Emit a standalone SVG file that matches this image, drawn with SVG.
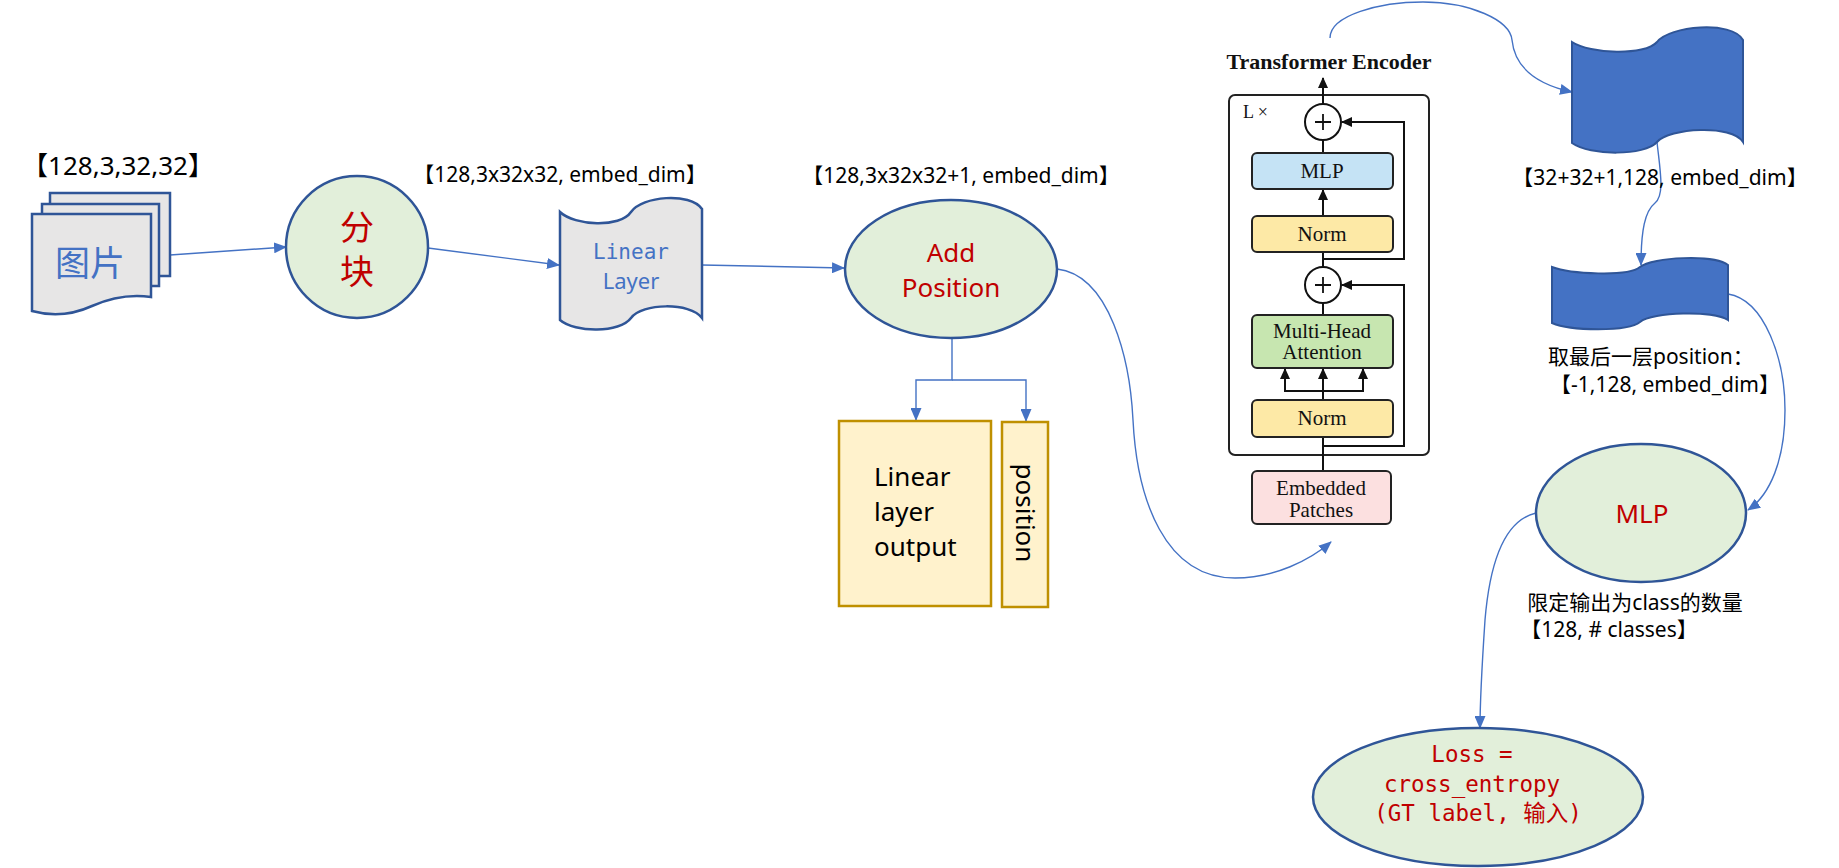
<svg xmlns="http://www.w3.org/2000/svg" width="1839" height="868" viewBox="0 0 1839 868">
<defs>
<marker id="ab" markerWidth="13" markerHeight="11" refX="12" refY="5.5" orient="auto" markerUnits="userSpaceOnUse"><path d="M0,0 L13,5.5 L0,11 Z" fill="#4472c4"/></marker>
<marker id="ak" markerWidth="11" markerHeight="10" refX="10" refY="5" orient="auto" markerUnits="userSpaceOnUse"><path d="M0,0 L11,5 L0,10 Z" fill="#111"/></marker>
<style>
.lbl{font-family:"Noto Sans","Noto Sans CJK SC",sans-serif;fill:#000}
.red{font-family:"Noto Sans","Noto Sans CJK SC",sans-serif;fill:#c00000}
.mono{font-family:"DejaVu Sans Mono","Noto Sans CJK SC",monospace;fill:#c00000;font-size:22.5px}
.gnode{fill:#e2efda;stroke:#2f5597;stroke-width:2.5}
.doc{fill:#e7e6e6;stroke:#2f5597;stroke-width:2.5}
.tape{fill:#4472c4;stroke:#2f5597;stroke-width:2}
.ybox{fill:#fff2cc;stroke:#bf9000;stroke-width:2.5}
.conn{fill:none;stroke:#4472c4;stroke-width:1.4}
.tl{fill:none;stroke:#111;stroke-width:2}
.ser{font-family:"Liberation Serif",serif;font-size:21px;fill:#111;text-anchor:middle}
</style>
</defs>
<rect width="1839" height="868" fill="#fff"/>

<g id="connectors">
<path class="conn" d="M170,255 L286,247" marker-end="url(#ab)"/>
<path class="conn" d="M428,248 L559,265" marker-end="url(#ab)"/>
<path class="conn" d="M702,265 L844,268" marker-end="url(#ab)"/>
<path class="conn" d="M952,338 V380 H916 V420" marker-end="url(#ab)"/>
<path class="conn" d="M952,380 H1026 V421" marker-end="url(#ab)"/>
<path class="conn" d="M1057,269 C1110,275 1130,360 1133,420 C1137,500 1165,578 1235,578 C1275,578 1310,560 1331,542" marker-end="url(#ab)"/>
<path class="conn" d="M1330,38 C1330,15 1380,2 1423,2 C1470,2 1510,20 1512,40 C1515,70 1540,85 1572,92" marker-end="url(#ab)"/>
<path class="conn" d="M1657,142 C1660,170 1665,195 1655,203 C1645,211 1641,230 1641,265" marker-end="url(#ab)"/>
<path class="conn" d="M1728,294 C1765,300 1785,360 1785,410 C1785,460 1770,495 1748,510" marker-end="url(#ab)"/>
<path class="conn" d="M1536,513 C1505,520 1490,560 1485,620 C1481,680 1480,710 1480,728" marker-end="url(#ab)"/>
</g>

<g id="label-input"><text class="lbl" x="118" y="175" font-size="26" text-anchor="middle">【128,3,32,32】</text></g>

<g id="images">
<rect class="doc" x="50" y="193" width="120" height="83"/>
<rect class="doc" x="42" y="204" width="117" height="82"/>
<path class="doc" d="M32,214 H151 V297 C130,294 110,298 92,306 C70,316 50,316 32,311 Z"/>
<text x="90" y="276" font-family="Noto Sans CJK SC,sans-serif" font-size="35" fill="#4472c4" text-anchor="middle">图片</text>
</g>

<g id="split">
<circle class="gnode" cx="357" cy="247" r="71"/>
<text class="red" x="357" y="240" font-size="34" text-anchor="middle">分</text>
<text class="red" x="357" y="284" font-size="34" text-anchor="middle">块</text>
</g>

<g id="label-linear"><text class="lbl" x="560" y="182" font-size="21" text-anchor="middle">【128,3x32x32, embed_dim】</text></g>

<g id="linear-layer">
<path class="doc" d="M560,212 C575,226 620,228 631,212 C642,196 690,192 702,209 V318 C690,302 642,303 631,318 C620,333 575,333 560,320 Z"/>
<text x="631" y="259" font-family="DejaVu Sans Mono,monospace" font-size="21" fill="#4472c4" text-anchor="middle">Linear</text>
<text x="631" y="289" font-family="Noto Sans,sans-serif" font-size="22" fill="#4472c4" text-anchor="middle">Layer</text>
</g>

<g id="label-addpos"><text class="lbl" x="961" y="183" font-size="21" text-anchor="middle">【128,3x32x32+1, embed_dim】</text></g>

<g id="add-position">
<ellipse class="gnode" cx="951" cy="269" rx="106" ry="69"/>
<text class="red" x="951" y="262" font-size="26" text-anchor="middle">Add</text>
<text class="red" x="951" y="297" font-size="26" text-anchor="middle">Position</text>
</g>

<g id="linear-output">
<rect class="ybox" x="839" y="421" width="152" height="185"/>
<text class="lbl" x="874" y="486" font-size="26">Linear</text>
<text class="lbl" x="874" y="521" font-size="26">layer</text>
<text class="lbl" x="874" y="556" font-size="26">output</text>
</g>

<g id="position">
<rect class="ybox" x="1002" y="422" width="46" height="185"/>
<text class="lbl" x="0" y="0" font-size="26" text-anchor="middle" transform="translate(1016,513) rotate(90)">position</text>
</g>

<g id="transformer-encoder">
<text x="1329" y="69" font-family="Liberation Serif,serif" font-weight="bold" font-size="22" fill="#111" text-anchor="middle">Transformer Encoder</text>
<rect x="1229" y="95" width="200" height="360" rx="6" fill="none" stroke="#222" stroke-width="2"/>
<text x="1243" y="118" font-family="Liberation Serif,serif" font-size="18" fill="#111">L ×</text>
<path class="tl" d="M1323,104 V78" marker-end="url(#ak)"/>
<path class="tl" d="M1323,153 V140"/>
<path class="tl" d="M1323,216 V190" marker-end="url(#ak)"/>
<path class="tl" d="M1323,267 V252"/>
<path class="tl" d="M1323,259 H1404 V122 H1342" marker-end="url(#ak)"/>
<path class="tl" d="M1323,315 V303"/>
<path class="tl" d="M1323,446 H1404 V285 H1342" marker-end="url(#ak)"/>
<path class="tl" d="M1323,471 V437"/>
<path class="tl" d="M1323,400 V391 M1285,391 H1363"/>
<path class="tl" d="M1285,392 V369" marker-end="url(#ak)"/>
<path class="tl" d="M1323,392 V369" marker-end="url(#ak)"/>
<path class="tl" d="M1363,392 V369" marker-end="url(#ak)"/>
<circle cx="1323" cy="122" r="18" fill="#fff" stroke="#111" stroke-width="2"/>
<path fill="none" stroke="#111" stroke-width="1.8" d="M1315,122 H1331 M1323,114 V130"/>
<circle cx="1323" cy="285" r="18" fill="#fff" stroke="#111" stroke-width="2"/>
<path fill="none" stroke="#111" stroke-width="1.8" d="M1315,285 H1331 M1323,277 V293"/>
<rect x="1252" y="153" width="141" height="36" rx="5" fill="#c5e3f5" stroke="#222" stroke-width="2"/>
<text class="ser" x="1322" y="178">MLP</text>
<rect x="1252" y="216" width="141" height="36" rx="5" fill="#fde9a6" stroke="#222" stroke-width="2"/>
<text class="ser" x="1322" y="241">Norm</text>
<rect x="1252" y="315" width="141" height="53" rx="5" fill="#c7e6b0" stroke="#222" stroke-width="2"/>
<text class="ser" x="1322" y="338">Multi-Head</text>
<text class="ser" x="1322" y="359">Attention</text>
<rect x="1252" y="400" width="141" height="37" rx="5" fill="#fde9a6" stroke="#222" stroke-width="2"/>
<text class="ser" x="1322" y="425">Norm</text>
</g>

<g id="embedded-patches">
<rect x="1252" y="471" width="139" height="53" rx="5" fill="#fce0e0" stroke="#222" stroke-width="2"/>
<text class="ser" x="1321" y="495">Embedded</text>
<text class="ser" x="1321" y="517">Patches</text>
</g>

<g id="tape-all">
<path class="tape" d="M1572,42 C1590,54 1645,56 1657,42 C1669,26 1732,20 1743,40 V142 C1732,124 1669,128 1657,142 C1645,156 1590,156 1572,143 Z"/>
<text class="lbl" x="1660" y="185" font-size="21" text-anchor="middle">【32+32+1,128, embed_dim】</text>
</g>

<g id="tape-last">
<path class="tape" d="M1552,267 C1570,274 1628,277 1640,267 C1652,257 1714,254 1728,265 V320 C1714,310 1652,312 1640,322 C1628,332 1570,331 1552,323 Z"/>
<text class="lbl" x="1548" y="364" font-size="21">取最后一层position：</text>
<text class="lbl" x="1665" y="392" font-size="21" text-anchor="middle">【-1,128, embed_dim】</text>
</g>

<g id="mlp">
<ellipse class="gnode" cx="1641" cy="513" rx="105" ry="69"/>
<text class="red" x="1642" y="523" font-size="26" text-anchor="middle">MLP</text>
<text class="lbl" x="1635" y="610" font-size="21" text-anchor="middle">限定输出为class的数量</text>
<text class="lbl" x="1609" y="637" font-size="21" text-anchor="middle">【128, # classes】</text>
</g>

<g id="loss">
<ellipse class="gnode" cx="1478" cy="797" rx="165" ry="69"/>
<text class="mono" x="1472" y="762" text-anchor="middle">Loss =</text>
<text class="mono" x="1472" y="792" text-anchor="middle">cross_entropy</text>
<text class="mono" x="1478" y="821" text-anchor="middle">(GT label, 输入)</text>
</g>
</svg>
